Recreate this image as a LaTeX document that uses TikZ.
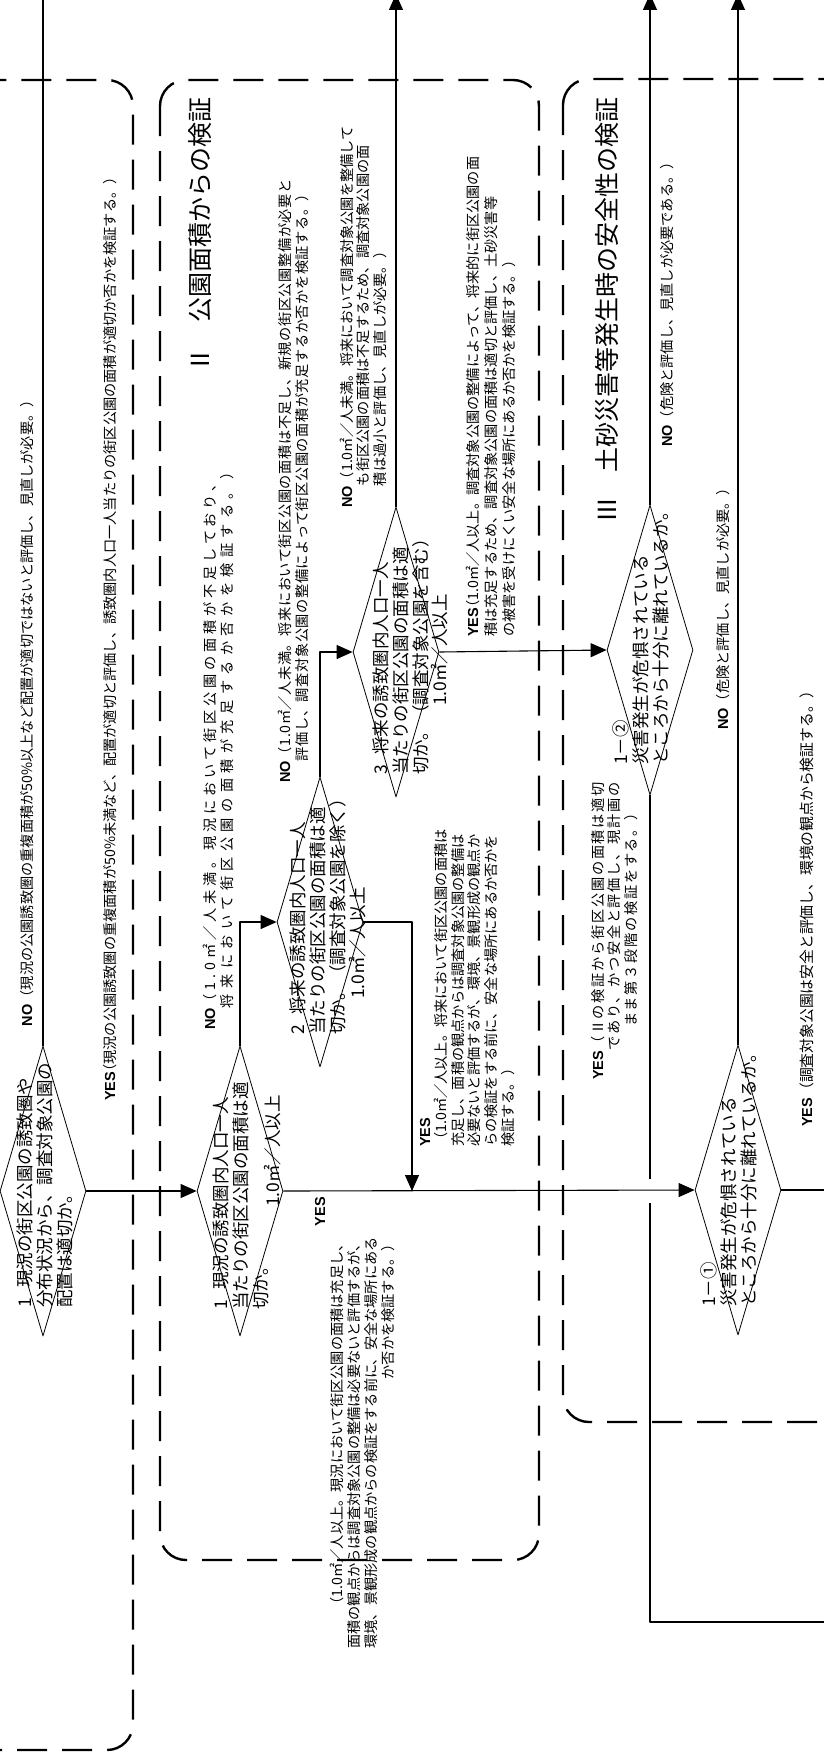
\documentclass[tikz,border=0pt]{standalone}
\usepackage{fontspec}
\setmainfont{Noto Sans CJK JP}
\newfontfamily\ynfont{Liberation Sans}
\newcommand\yn[1]{{\ynfont\bfseries\fontsize{14.5}{15}\selectfont #1}}
\newcommand\spaced[2]{{\addfontfeatures{LetterSpace=#1}#2}}
\usetikzlibrary{arrows.meta,shapes.geometric}
\tikzset{
  every picture/.style={line join=round},
  grp/.style={line width=2.4pt, dash pattern=on 30pt off 15pt, rounded corners=26pt},
  chk/.style={draw, diamond, line width=0.8pt, minimum width=86pt, minimum height=290pt, inner sep=0pt},
  flow/.style={line width=1.1pt},
  arw/.style={flow, -{Triangle[length=16pt,width=14pt]}},
  lbl/.style={rotate=90, inner sep=0pt, font=\fontsize{14.2}{16.5}\selectfont},
  dtxt/.style={rotate=90, inner sep=0pt, font=\fontsize{17.5}{18.5}\selectfont},
  ttl/.style={rotate=90, inner sep=0pt, font=\fontsize{25}{28}\selectfont},
}
\begin{document}
\begin{tikzpicture}[x=1pt,y=-1pt]
\useasboundingbox (0,0) rectangle (824,1753);
\clip (0,0) rectangle (824,1753);
% dashed groups
\draw[grp] (-60,80) rectangle (133,1750);
\draw[grp] (160,80) rectangle (539,1560);
\draw[grp] (563,79) rectangle (900,1422);
\node[ttl, anchor=east] (t2) at (200,97) {Ⅱ　公園面積からの検証};
\node[ttl, anchor=east] (t3) at (607,97) {Ⅲ　土砂災害等発生時の安全性の検証};

% checks
\node[chk] (a1) at (43,1191) {};
\node[chk] (b1) at (240,1191) {};
\node[chk] (b2) at (320,922) {};
\node[chk] (b3) at (396,652) {};
\node[chk] (c2) at (650,650) {};
\node[chk] (c1) at (738,1190) {};

\node[dtxt, anchor=base west] (a1t) at (31,1308) {\begin{tabular}[t]{@{}l@{}}1\hspace{0.6em}現況の街区公園の誘致圏や\\分布状況から、調査対象公園の\\配置は適切か。\end{tabular}};
\node[dtxt, anchor=base west] (b1t) at (227,1310) {\begin{tabular}[t]{@{}l@{}}1\hspace{0.6em}現況の誘致圏内人口一人\\当たりの街区公園の面積は適\\切か。\end{tabular}};
\node[dtxt] (b1c) at (273,1151) {1.0㎡／人以上};
\node[dtxt, anchor=base west] (b2t) at (304,1035) {\begin{tabular}[t]{@{}l@{}}2\hspace{0.6em}将来の誘致圏内人口一人\\当たりの街区公園の面積は適\\切か。（調査対象公園を除く）\end{tabular}};
\node[dtxt] (b2c) at (358,943) {1.0㎡／人以上};
\node[dtxt, anchor=base west] (b3t) at (387,775) {\begin{tabular}[t]{@{}l@{}}3\hspace{0.6em}将来の誘致圏内人口一人\\当たりの街区公園の面積は適\\切か。（調査対象公園を含む）\end{tabular}};
\node[dtxt] (b3c) at (440,650) {1.0㎡／人以上};
\node[dtxt, anchor=base west] (c2t) at (627,765) {\begin{tabular}[t]{@{}l@{}}1－②\\災害発生が危惧されている\\ところから十分に離れているか。\end{tabular}};
\node[dtxt, anchor=base west] (c1t) at (715,1307) {\begin{tabular}[t]{@{}l@{}}1－①\\災害発生が危惧されている\\ところから十分に離れているか。\end{tabular}};

% answers
\node[lbl, anchor=base east] (noA) at (32,393) {\yn{NO}（現況の公園誘致圏の重複面積が50\%以上など配置が適切ではないと評価し、見直しが必要。）};
\node[lbl, anchor=base east] (yesA) at (115,170) {\yn{YES}\kern-7pt（現況の公園誘致圏の重複面積が50\%未満など、配置が適切と評価し、誘致圏内人口一人当たりの街区公園の面積が適切か否かを検証する。）};
\node[lbl, anchor=base west] (noB) at (215,1030) {\yn{NO}\begin{tabular}[t]{@{}l@{}}\spaced{27}{（1.0㎡／人未満。現況において街区公園の面積が不足しており、}\\\spaced{38}{将来において街区公園の面積が充足するか否かを検証する。）}\end{tabular}};
\node[lbl, anchor=base east] (yesB) at (325,1237) {\begin{tabular}[t]{@{}r@{}}\yn{YES}\kern-40pt\\（1.0㎡／人以上。現況において街区公園の面積は充足し、\\面積の観点からは調査対象公園の整備は必要ないと評価するが、\\環境、景観形成の観点からの検証をする前に、安全な場所にある\\か否かを検証する。）\end{tabular}};
\node[lbl, anchor=base west] (noC) at (290,783) {\yn{NO}\begin{tabular}[t]{@{}l@{}}\spaced{4}{（1.0㎡／人未満。将来において街区公園の面積は不足し、新規の街区公園整備が必要と}\\\spaced{4}{評価し、調査対象公園の整備によって街区公園の面積が充足するか否かを検証する。）}\end{tabular}};
\node[lbl, anchor=base west, font=\fontsize{14.2}{15}\selectfont] (yesC) at (430,1147) {\begin{tabular}[t]{@{}l@{}}\yn{YES}\\（1.0㎡／人以上。将来において街区公園の面積は\\充足し、面積の観点からは調査対象公園の整備は\\必要ないと評価するが、環境、景観形成の観点か\\らの検証をする前に、安全な場所にあるか否かを\\検証する。）\end{tabular}};
\node[lbl, anchor=base west, font=\fontsize{14.2}{15}\selectfont] (noD) at (352,508) {\yn{NO}\begin{tabular}[t]{@{}l@{}}（1.0㎡／人未満。将来において調査対象公園を整備して\\も街区公園の面積は不足するため、調査対象公園の面\\積は過小と評価し、見直しが必要。）\end{tabular}};
\node[lbl, anchor=base west, font=\fontsize{14.2}{18}\selectfont] (yesD) at (478,637) {\begin{tabular}[t]{@{}l@{}}\yn{YES}\kern-7pt（1.0㎡／人以上。調査対象公園の整備によって、将来的に街区公園の面\\積は充足するため、調査対象公園の面積は適切と評価し、土砂災害等\\の被害を受けにくい安全な場所にあるか否かを検証する。）\end{tabular}};
\node[lbl, anchor=base west, font=\fontsize{14.2}{15}\selectfont] (yesE) at (603,1080) {\yn{YES}\begin{tabular}[t]{@{}c@{}}\spaced{12}{（Ⅱの検証から街区公園の面積は適切}\\\spaced{12}{であり、かつ安全と評価し、現計画の}\\\spaced{12}{まま第３段階の検証をする。）}\end{tabular}};
\node[lbl, anchor=base west] (noE) at (672,447) {\yn{NO}（危険と評価し、見直しが必要である。）};
\node[lbl, anchor=base west] (noF) at (728,730) {\yn{NO}（危険と評価し、見直しが必要。）};
\node[lbl, anchor=base west, font=\fontsize{14.8}{16}\selectfont] (yesF) at (812,1127) {\yn{YES}（調査対象公園は安全と評価し、環境の観点から検証する。）};

% connectors
\coordinate (outA) at (43,-6);
\coordinate (outB) at (396,-6);
\coordinate (outC) at (650,-6);
\coordinate (outD) at (738,-6);
\coordinate (outE) at (830,1190);
\coordinate (jn) at (412,1191);
\coordinate (gapT) at (650,1179);
\coordinate (gapB) at (650,1203);
\coordinate (turn) at (650,1622);
\coordinate (outF) at (830,1622);
\draw[flow] (a1.north) -- (outA);
\draw[arw] (a1.east) -- (b1.west);
\draw[arw] (b1.north) |- (b2.west);
\draw[arw] (b2.north) |- (b3.west);
\draw[arw] (b2.east) -| (jn);
\draw[arw] (b3.north) -- (outB);
\draw[arw] (b3.east) -- (c2.west);
\draw[arw] (b1.east) -- (c1.west);
\draw[arw] (c2.north) -- (outC);
\draw[arw] (c1.north) -- (outD);
\draw[flow] (c1.east) -- (outE);
\draw[flow] (c2.south) -- (gapT);
\draw[flow] (gapB) -- (turn) -- (outF);
\end{tikzpicture}
\end{document}
